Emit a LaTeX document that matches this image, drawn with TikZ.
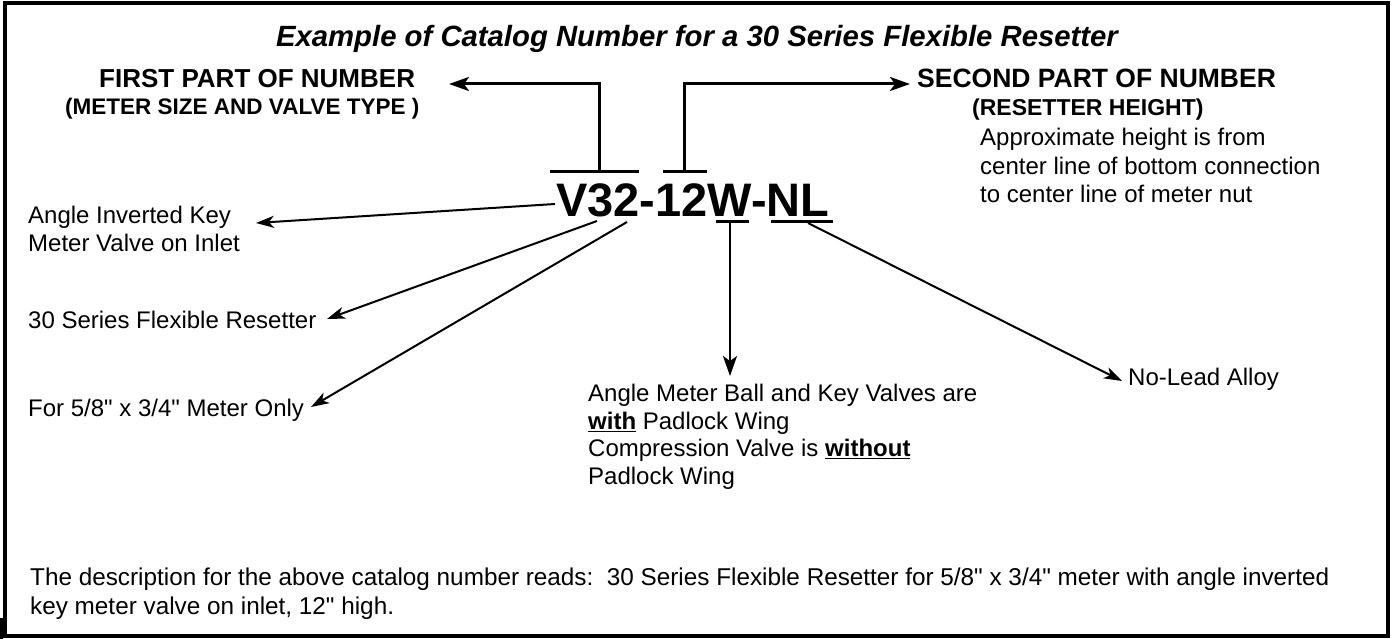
\documentclass[tikz,border=0pt]{standalone}
\usepackage{fontspec}
\setmainfont{Liberation Sans}[Ligatures=TeXOff]
\usetikzlibrary{arrows.meta}
\begin{document}
\begin{tikzpicture}[x=1pt,y=-1pt,
  txt/.style={inner sep=0pt, anchor=base west, font=\fontsize{24}{28.5}\selectfont},
  mtxt/.style={inner sep=0pt, anchor=north west, align=left, font=\fontsize{24}{28.5}\selectfont},
  head/.style={inner sep=0pt, anchor=base west, font=\fontsize{26}{30}\selectfont\bfseries},
  subhead/.style={inner sep=0pt, anchor=base west, font=\fontsize{23}{27}\selectfont\bfseries},
  bar/.style={line width=3pt},
  brk/.style={line width=3pt, -{Stealth[length=20pt,width=14pt,inset=5pt]}},
  arr/.style={line width=2pt, -{Stealth[length=18pt,width=12pt,inset=5pt]}}]
\useasboundingbox (0,0) rectangle (1393,639);
\draw[line width=4pt] (5,3) rectangle (1388,636);
\fill (0,618) rectangle (3,639);

\node[inner sep=0pt, anchor=base, font=\fontsize{29.3}{34}\selectfont\bfseries\itshape] (title) at (697,47)
  {Example of Catalog Number for a 30 Series Flexible Resetter};

\node[head] (first) at (99,88) {FIRST PART OF NUMBER};
\node[subhead, font=\fontsize{22.5}{27}\selectfont\bfseries] (firstsub) at (65,115) {(METER SIZE AND VALVE TYPE )};
\node[head, font=\fontsize{26.5}{30}\selectfont\bfseries] (second) at (917,88) {SECOND PART OF NUMBER};
\node[subhead] (secondsub) at (972,116) {(RESETTER HEIGHT)};
\node[mtxt] (approx) at (980,128) {Approximate height is from\\center line of bottom connection\\to center line of meter nut};

\node[inner sep=0pt, anchor=base west, font=\fontsize{47}{50}\selectfont\bfseries] (code) at (556,217) {V32-12W-NL};

\node[mtxt, font=\fontsize{24}{28}\selectfont] (inv) at (28,206) {Angle Inverted Key\\Meter Valve on Inlet};
\node[txt] (series) at (28,328) {30 Series Flexible Resetter};
\node[txt] (size) at (28,416) {For 5/8" x 3/4" Meter Only};
\node[mtxt, font=\fontsize{24}{27.7}\selectfont] (wing) at (588,384)
  {Angle Meter Ball and Key Valves are\\\underline{\textbf{with}} Padlock Wing\\Compression Valve is \underline{\textbf{without}}\\Padlock Wing};
\node[txt] (nolead) at (1128,385) {No-Lead Alloy};
\node[mtxt, font=\fontsize{24.3}{29}\selectfont] (desc) at (30,568)
  {The description for the above catalog number reads:\ \ 30 Series Flexible Resetter for 5/8" x 3/4" meter with angle inverted\\key meter valve on inlet, 12" high.};

% bars and underlines
\coordinate (b1l) at (550,172); \coordinate (b1r) at (639,172); \coordinate (b1m) at (599,172);
\coordinate (b2l) at (663,172); \coordinate (b2r) at (707,172); \coordinate (b2m) at (684,172);
\coordinate (uwl) at (716,222); \coordinate (uwr) at (749,222); \coordinate (uwm) at (730,222);
\coordinate (unl) at (771,222); \coordinate (unr) at (833,222); \coordinate (unm) at (808,223);
\draw[bar] (b1l) -- (b1r);
\draw[bar] (b2l) -- (b2r);
\draw[bar] (uwl) -- (uwr);
\draw[bar] (unl) -- (unr);

\coordinate (t1) at (449,84);
\coordinate (t2) at (910,84);
\draw[brk] (b1m) |- (t1);
\draw[brk] (b2m) |- (t2);

\coordinate (sv) at (555,204);  \coordinate (tv) at (256,223);
\coordinate (s3) at (597,221);  \coordinate (t3) at (327,319);
\coordinate (s2) at (627,222);  \coordinate (t2b) at (311,407);
\coordinate (tw) at (730,376);
\coordinate (tn) at (1122,381);
\draw[arr] (sv) -- (tv);
\draw[arr] (s3) -- (t3);
\draw[arr] (s2) -- (t2b);
\draw[brk, line width=2.5pt] (uwm) -- (tw);
\draw[arr] (unm) -- (tn);
\end{tikzpicture}
\end{document}
